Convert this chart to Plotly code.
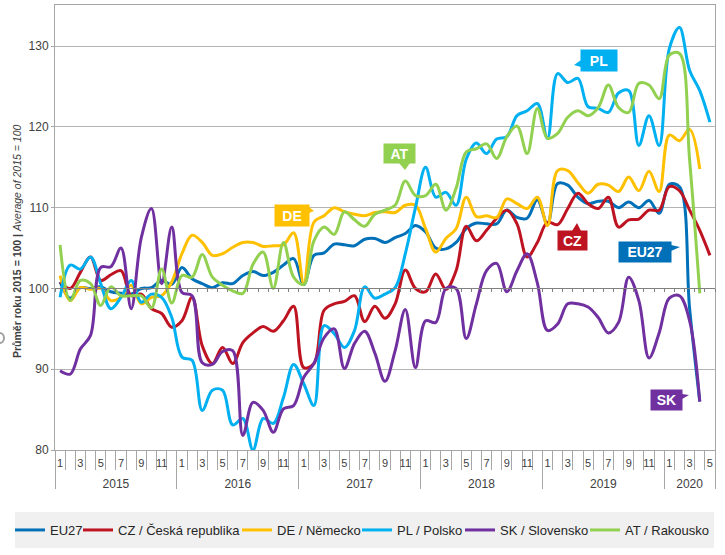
"""Industrial index 2015 = 100, monthly, EU27 and neighbours, Jan 2015 to May 2020."""
import plotly.graph_objects as go

YEARS = [2015, 2016, 2017, 2018, 2019, 2020]
MONTHS_IN_YEAR = [12, 12, 12, 12, 12, 5]

months = [f"{y}-{m:02d}" for y, n in zip(YEARS, MONTHS_IN_YEAR) for m in range(1, n + 1)]
month_labels = [str(m) if m % 2 else "" for n in MONTHS_IN_YEAR for m in range(1, n + 1)]

eu27 = [100.8, 98.8, 100.1, 100.0, 100.2, 99.6, 99.4, 99.3, 100.0, 100.1, 101.0, 100.5,
        102.6, 101.2, 100.6, 100.1, 100.7, 100.6, 101.6, 102.1, 101.6, 102.0, 102.9, 103.7,
        100.5, 104.1, 104.4, 105.5, 105.4, 105.3, 106.1, 106.2, 105.7, 106.3, 106.8, 107.8,
        107.0, 105.0, 104.9, 105.7, 107.4, 108.1, 108.0, 108.0, 109.7, 108.8, 108.7, 111.0,
        108.0, 113.0, 112.8, 111.3, 110.5, 110.8, 110.8, 110.0, 110.7, 110.0, 110.9, 109.3,
        112.9, 112.6, 97.5, 86.0]
cz = [100.8, 100.0, 102.0, 103.9, 101.0, 101.7, 102.2, 99.1, 99.3, 97.5, 96.9, 95.2,
      96.0, 98.9, 92.9, 90.7, 92.7, 90.7, 93.3, 94.5, 95.3, 94.7, 96.0, 97.8,
      90.2, 90.7, 97.3, 98.1, 98.4, 99.1, 95.9, 97.8, 96.3, 98.1, 102.3, 100.0,
      99.6, 101.8, 99.9, 102.2, 107.7, 105.9, 107.2, 108.7, 109.7, 108.0, 103.9, 105.7,
      108.2, 107.9, 109.9, 111.8, 110.5, 109.9, 111.3, 107.6, 108.5, 108.6, 109.7, 109.7,
      112.6, 112.1, 109.7, 107.2, 104.1]
de = [101.6, 98.5, 100.1, 99.9, 100.0, 98.5, 98.9, 100.4, 98.1, 98.9, 99.1, 100.8,
      104.3, 106.6, 105.7, 104.1, 104.3, 105.1, 105.7, 105.7, 105.2, 105.3, 105.4, 106.9,
      100.6, 108.2, 109.0, 110.0, 109.5, 109.2, 109.0, 109.4, 109.5, 109.4, 110.3, 110.3,
      107.4, 104.5, 106.2, 107.4, 111.3, 108.9, 109.0, 108.8, 111.1, 110.5, 109.9, 111.3,
      107.8, 114.6, 114.6, 113.1, 111.8, 112.9, 112.8, 112.0, 113.8, 112.1, 114.5, 112.0,
      119.0, 118.3, 119.7, 114.8]
pl = [98.9, 102.9, 102.4, 103.9, 100.6, 97.5, 98.9, 101.0, 98.3, 99.3, 98.9, 96.4,
      91.5, 91.1, 84.9, 87.4, 87.4, 83.1, 83.9, 80.0, 83.9, 83.3, 86.5, 90.6,
      88.2, 85.5, 95.4, 94.4, 92.7, 94.8, 100.2, 98.8, 99.3, 100.1, 104.3, 110.0,
      115.0, 111.3, 111.9, 110.3, 116.0, 118.0, 116.7, 118.5, 118.8, 121.4, 122.0, 122.9,
      118.6, 126.6, 125.5, 126.0, 122.5, 122.3, 121.8, 124.2, 124.5, 117.7, 121.4, 117.7,
      129.7, 132.3, 127.0, 124.5, 120.6]
sk = [89.8, 89.4, 92.5, 94.2, 102.6, 102.7, 105.0, 97.5, 106.3, 109.9, 100.6, 107.6,
      99.5, 99.1, 90.8, 90.6, 92.2, 92.3, 81.8, 85.9, 84.9, 82.2, 85.1, 85.5,
      89.0, 90.7, 93.9, 95.0, 90.1, 93.2, 94.7, 92.0, 88.5, 92.3, 97.4, 90.2,
      96.0, 95.8, 100.0, 100.0, 93.8, 98.1, 102.2, 103.1, 99.6, 102.2, 104.3, 100.7,
      94.8, 95.6, 98.1, 98.1, 97.7, 96.4, 94.5, 95.8, 101.4, 98.5, 91.4, 94.5,
      98.8, 99.1, 96.0, 86.0]
at = [105.4, 98.5, 101.0, 100.6, 97.9, 100.2, 99.1, 99.1, 99.1, 97.6, 102.4, 98.2,
      101.6, 101.4, 104.2, 101.4, 100.4, 99.7, 99.4, 103.0, 104.5, 100.0, 105.7, 101.4,
      100.5, 105.9, 107.6, 106.7, 109.5, 108.5, 107.7, 109.2, 109.7, 110.3, 113.3, 111.5,
      111.5, 112.9, 109.7, 112.4, 116.9, 117.3, 117.9, 116.1, 118.8, 120.1, 116.7, 122.3,
      118.6, 119.2, 121.2, 122.0, 121.4, 122.4, 125.2, 122.4, 121.8, 125.4, 125.2, 123.5,
      128.9, 129.1, 115.9, 99.4]

SERIES = [
    ("EU27", eu27, "#0070B8"),
    ("CZ / Česká republika", cz, "#BE1421"),
    ("DE / Německo", de, "#FFC000"),
    ("PL / Polsko", pl, "#00B0F0"),
    ("SK / Slovensko", sk, "#7030A0"),
    ("AT / Rakousko", at, "#92D050"),
]
LEGEND_TEXT_X = [50, 118, 277, 397, 500, 625]

# callouts: label, colour, box (x0, y0, x1, y1) and pointer triangle, in page pixels
CALLOUTS = [
    ("PL", "#00B0F0", (581, 50, 617, 71), [(581, 60), (574, 65), (581, 67)]),
    ("AT", "#92D050", (384, 144, 415, 163), [(399, 163), (405, 170), (410, 163)]),
    ("DE", "#FFC000", (275, 205, 309, 226), [(309, 207), (314, 211), (309, 213)]),
    ("CZ", "#BE1421", (558, 231, 587, 250), [(572, 231), (577, 223), (581, 231)]),
    ("EU27", "#0070B8", (619, 242, 671, 262), [(671, 245), (680, 247), (671, 251)]),
    ("SK", "#7030A0", (651, 390, 682, 410), [(682, 394), (689, 395), (682, 399)]),
]

W, H = 725, 555
L, R, T, B = 55, 10, 5, 105
Y_RANGE = [80, 135.1]
GREY = "#A6A6A6"
TEXT = "#404040"
FONT = "Liberation Sans"


def px_x(x):
    return (x - L) / (W - L - R)


def px_y(y):
    return 1 - (y - T) / (H - T - B)


fig = go.Figure()
for i, (name, values, color) in enumerate(SERIES):
    fig.add_trace(go.Scatter(
        x=months[:len(values)], y=values, name=name, mode="lines",
        line=dict(color=color, width=3, shape="spline"),
        legend="legend" if i == 0 else f"legend{i + 1}",
    ))

# helper axes need a trace to live on
n = len(months)
year_centres, year_edges, start = [], [-0.5], 0
for count in MONTHS_IN_YEAR:
    year_centres.append(start + (count - 1) / 2)
    start += count
    year_edges.append(start - 0.5)
for axis in ("x2", "x3"):
    fig.add_trace(go.Scatter(x=[-0.5, n - 0.5], y=[None, None], xaxis=axis, mode="lines",
                             showlegend=False, hoverinfo="skip"))

fig.update_layout(
    width=W, height=H, margin=dict(l=L, r=R, t=T, b=B),
    paper_bgcolor="white", plot_bgcolor="white",
    font=dict(family=FONT, size=12, color=TEXT),
    xaxis=dict(
        type="category", categoryorder="array", categoryarray=months,
        range=[-0.5, n - 0.5], tickmode="array", tickvals=months, ticktext=month_labels,
        tickson="boundaries", ticks="outside", ticklen=19, tickcolor=GREY, tickangle=0,
        ticklabelstandoff=3, tickfont=dict(size=11),
        showgrid=False, showline=True, linecolor=GREY, mirror=True, zeroline=False,
    ),
    xaxis2=dict(
        overlaying="x", anchor="y", side="bottom", range=[-0.5, n - 0.5],
        tickmode="array", tickvals=year_centres, ticktext=[str(y) for y in YEARS],
        ticks="", ticklabelstandoff=25, tickfont=dict(size=12), showgrid=False, zeroline=False,
        minor=dict(tickmode="array", tickvals=year_edges, ticks="outside", ticklen=38,
                   tickcolor=GREY, showgrid=False),
    ),
    xaxis3=dict(
        overlaying="x", anchor="free", side="bottom", range=[-0.5, n - 0.5],
        position=(100 - Y_RANGE[0]) / (Y_RANGE[1] - Y_RANGE[0]),
        tick0=-0.5, dtick=1, ticks="outside", ticklen=3, tickcolor="#808080",
        showticklabels=False, showgrid=False, zeroline=False,
        showline=True, linecolor="#808080",
    ),
    yaxis=dict(
        range=Y_RANGE, tickvals=[80, 90, 100, 110, 120, 130], ticks="outside", ticklen=3,
        tickcolor=GREY, tickfont=dict(size=12), gridcolor="#B4B4B4", gridwidth=1,
        showline=True, linecolor=GREY, mirror=True, zeroline=False,
    ),
    annotations=[dict(
        xref="paper", yref="paper", x=px_x(17), y=px_y(242), textangle=-90, showarrow=False,
        xanchor="center", yanchor="middle",
        text="<b>Průměr roku 2015 = 100 | </b><i>Average of 2015 = 100</i>",
        font=dict(size=10.5, color=TEXT),
    )],
    shapes=[
        dict(type="rect", xref="paper", yref="paper", layer="below",
             x0=px_x(15), x1=px_x(714), y0=px_y(512), y1=px_y(548),
             fillcolor="#F0F0F0", line_width=0),
        dict(type="circle", xref="paper", yref="paper",
             x0=px_x(-5), x1=px_x(4), y0=px_y(333), y1=px_y(343),
             line=dict(color="#A0A0A0", width=2)),
    ],
)

# one legend per series so each entry can sit at its own place in the grey band
for i, text_x in enumerate(LEGEND_TEXT_X):
    key = "legend" if i == 0 else f"legend{i + 1}"
    fig.update_layout({key: dict(
        x=px_x(text_x - 40), y=px_y(530), xanchor="left", yanchor="middle",
        bgcolor="rgba(0,0,0,0)", font=dict(family=FONT, size=13, color="#262626"),
        borderwidth=0,
    )})

for label, color, (x0, y0, x1, y1), tip in CALLOUTS:
    path = "M " + " L ".join(f"{px_x(x):.4f} {px_y(y):.4f}" for x, y in tip) + " Z"
    fig.add_shape(type="path", xref="paper", yref="paper", path=path, fillcolor=color, line_width=0)
    fig.add_annotation(
        xref="paper", yref="paper", x=px_x((x0 + x1) / 2), y=px_y((y0 + y1) / 2),
        xanchor="center", yanchor="middle",
        text=f"<b>{label}</b>", showarrow=False, width=x1 - x0, height=y1 - y0,
        bgcolor=color, borderpad=0, font=dict(family=FONT, size=14, color="white"),
    )

fig.write_html("out.html", config={"displayModeBar": False},
               post_script="document.body.style.margin = '0';")
